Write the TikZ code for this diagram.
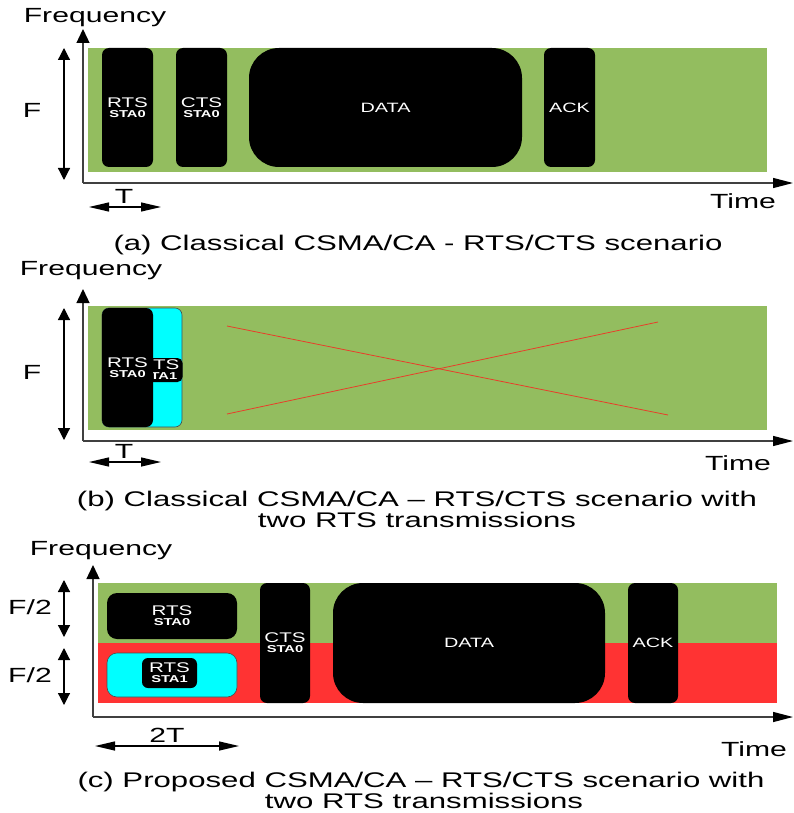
\documentclass[tikz,border=0pt]{standalone}
\usepackage{fontspec}
\setmainfont{Liberation Sans}[FakeStretch=1.47]
\usepackage{tikz}
\usetikzlibrary{arrows.meta, positioning, calc}
\definecolor{chgreen}{RGB}{147,189,95}
\definecolor{chred}{RGB}{255,51,51}
\definecolor{chcyan}{RGB}{0,255,255}
\definecolor{xred}{RGB}{232,62,42}
\newcommand{\stalabel}[1]{{\fontsize{10}{10}\selectfont\bfseries #1}}

\begin{document}
\begin{tikzpicture}[x=1pt, y=-1pt,
	lbl/.style={font=\fontsize{20.5}{22}\selectfont, inner sep=0pt, anchor=base},
	captxt/.style={lbl, font=\fontsize{21.2}{22}\selectfont},
	pkt/.style={fill=black, text=white, rounded corners=7pt, inner sep=0pt, align=center, font=\fontsize{14}{10}\selectfont},
	datapkt/.style={pkt, rounded corners=30pt, font=\fontsize{13.5}{10}\selectfont},
	ackpkt/.style={pkt, font=\fontsize{13.5}{10}\selectfont},
	cyanpkt/.style={pkt, fill=chcyan, draw=black!70, line width=0.6pt},
	axis/.style={draw=black!75, line width=1.3pt},
	vtip/.style={-{Triangle[length=14pt,width=13pt,color=black]}},
	htip/.style={-{Triangle[length=20pt,width=10pt,color=black]}},
	dimv/.style={{Triangle[length=12pt,width=12pt]}-{Triangle[length=12pt,width=12pt]}, line width=1.2pt},
	dimh/.style={{Triangle[length=20pt,width=9pt]}-{Triangle[length=20pt,width=9pt]}, line width=1.2pt},
	xline/.style={draw=xred, line width=0.8pt}]
	\useasboundingbox (0,0) rectangle (793,813);

	% (a)
	\fill[chgreen] (88,48) rectangle (767,172);
	\coordinate (a-o) at (83,183);
	\coordinate (a-ytop) at (83,29);
	\coordinate (a-xend) at (793,183);
	\draw[axis, vtip] (a-o) -- (a-ytop);
	\draw[axis, htip] (a-o) -- (a-xend);
	\node[pkt, minimum width=51, minimum height=119] (a-rts) at (127.5,107.5) {RTS\\\stalabel{STA0}};
	\node[pkt, minimum width=51, minimum height=119] (a-cts) at (201.5,107.5) {CTS\\\stalabel{STA0}};
	\node[datapkt, minimum width=273, minimum height=119] (a-data) at (385.5,107.5) {DATA};
	\node[ackpkt, minimum width=51, minimum height=119] (a-ack) at (569.5,107.5) {ACK};
	\coordinate (a-f1) at (64,48);
	\coordinate (a-f2) at (64,180);
	\draw[dimv] (a-f1) -- (a-f2);
	\coordinate (a-t1) at (89,207);
	\coordinate (a-t2) at (161,207);
	\draw[dimh] (a-t1) -- (a-t2);
	\node[lbl] (a-freq) at (95,23) {Frequency};
	\node[lbl] (a-time) at (743,208) {Time};
	\node[lbl] (a-F) at (32,118) {F};
	\node[lbl] (a-T) at (124,203) {T};
	\node[captxt] (a-cap) at (418,250) {(a) Classical CSMA/CA - RTS/CTS scenario};

	% (b)
	\fill[chgreen] (88,306) rectangle (767,430);
	\coordinate (b-o) at (83,441);
	\coordinate (b-ytop) at (83,289);
	\coordinate (b-xend) at (793,441);
	\draw[axis, vtip] (b-o) -- (b-ytop);
	\draw[axis, htip] (b-o) -- (b-xend);
	\node[cyanpkt, minimum width=80, minimum height=119] (b-cyan) at (142,367.5) {};
	\node[pkt, rounded corners=5pt, minimum width=47, minimum height=24] (b-rts1) at (159,370) {RTS\\\stalabel{STA1}};
	\node[pkt, minimum width=51, minimum height=119] (b-rts0) at (127.5,367.5) {RTS\\\stalabel{STA0}};
	\draw[xline] (227,326) -- (668,415);
	\draw[xline] (227,414) -- (658,322);
	\coordinate (b-f1) at (64,308);
	\coordinate (b-f2) at (64,440);
	\draw[dimv] (b-f1) -- (b-f2);
	\coordinate (b-t1) at (89,462);
	\coordinate (b-t2) at (161,462);
	\draw[dimh] (b-t1) -- (b-t2);
	\node[lbl] (b-freq) at (91,275) {Frequency};
	\node[lbl] (b-time) at (738,470) {Time};
	\node[lbl] (b-F) at (32,379) {F};
	\node[lbl] (b-T) at (124,458) {T};
	\node[captxt] (b-cap1) at (417,506) {(b) Classical CSMA/CA -- RTS/CTS scenario with};
	\node[captxt] (b-cap2) at (417,527) {two RTS transmissions};

	% (c)
	\fill[chgreen] (98,583) rectangle (777,643);
	\fill[chred] (98,643) rectangle (777,703);
	\coordinate (c-o) at (93,717);
	\coordinate (c-ytop) at (93,565);
	\coordinate (c-xend) at (793,717);
	\draw[axis, vtip] (c-o) -- (c-ytop);
	\draw[axis, htip] (c-o) -- (c-xend);
	\node[pkt, rounded corners=10pt, minimum width=130, minimum height=46] (c-rts0) at (172,616) {RTS\\\stalabel{STA0}};
	\node[cyanpkt, rounded corners=10pt, minimum width=130, minimum height=44] (c-cyan) at (172,675) {};
	\node[pkt, rounded corners=6pt, minimum width=55, minimum height=30] (c-rts1) at (169.5,673) {RTS\\\stalabel{STA1}};
	\node[pkt, minimum width=50, minimum height=120] (c-cts) at (285,643) {CTS\\\stalabel{STA0}};
	\node[datapkt, minimum width=272, minimum height=120] (c-data) at (469,643) {DATA};
	\node[ackpkt, minimum width=50, minimum height=120] (c-ack) at (653,643) {ACK};
	\coordinate (c-f1) at (64,580);
	\coordinate (c-f2) at (64,637);
	\coordinate (c-f3) at (64,648);
	\coordinate (c-f4) at (64,705);
	\draw[dimv] (c-f1) -- (c-f2);
	\draw[dimv] (c-f3) -- (c-f4);
	\coordinate (c-t1) at (95,746);
	\coordinate (c-t2) at (239,746);
	\draw[dimh] (c-t1) -- (c-t2);
	\node[lbl] (c-freq) at (101,555) {Frequency};
	\node[lbl] (c-time) at (754,756) {Time};
	\node[lbl] (c-F1) at (30,614) {F/2};
	\node[lbl] (c-F2) at (30,682) {F/2};
	\node[lbl] (c-T) at (167,742) {2T};
	\node[captxt] (c-cap1) at (421,787) {(c) Proposed CSMA/CA -- RTS/CTS scenario with};
	\node[captxt] (c-cap2) at (424,808) {two RTS transmissions};
\end{tikzpicture}
\end{document}
